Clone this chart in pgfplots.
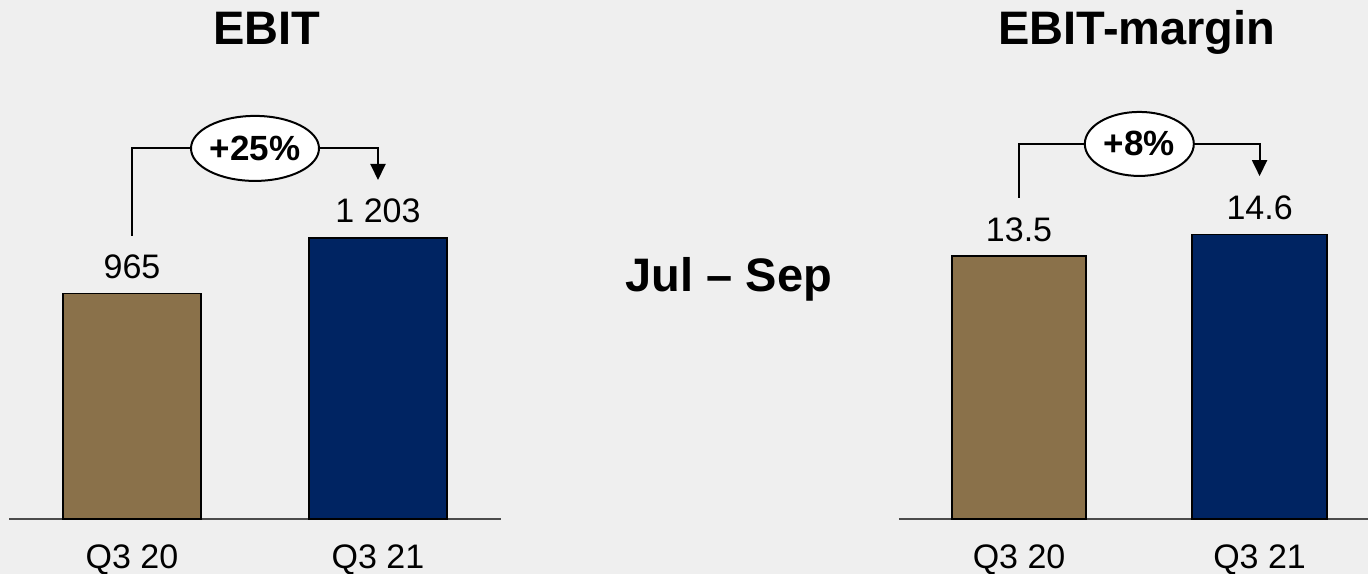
\documentclass[border=0pt]{standalone}
\usepackage{pgfplots}
\pgfplotsset{compat=1.18}
\usetikzlibrary{arrows.meta,shapes.geometric}
\usepackage{fontspec}
\setmainfont{Liberation Sans}
\definecolor{bg}{HTML}{EFEFEF}
\definecolor{barbrown}{HTML}{8A714A}
\definecolor{barnavy}{HTML}{002462}
\begin{document}
\begin{tikzpicture}
\fill[bg] (0,0) rectangle (684bp,287bp);
\useasboundingbox (0,0) rectangle (684bp,287bp);
\pgfplotsset{
  common/.style={
    anchor=south west, scale only axis, height=234bp,
    ymin=0,
    axis x line=bottom, axis y line=none,
    axis line style={-, draw=black!70, line width=0.9bp},
    xtick={0,1}, xticklabels={Q3 20,Q3 21}, major tick length=0pt,
    xticklabel style={anchor=base, yshift=-24.5bp, font=\fontsize{17bp}{20bp}\selectfont},
    clip=false, ybar,
    every node near coord/.append style={inner sep=0pt, yshift=6.8bp, text=black, font=\fontsize{17bp}{20bp}\selectfont},
  },
  barst/.style={fill=#1, draw=black, line width=0.9bp, bar shift=0pt, nodes near coords, point meta=explicit symbolic},
}
\begin{axis}[common, at={(4.5bp,27.35bp)}, width=246bp, xmin=-0.5, xmax=1.5, ymax=2000, bar width=69bp]
\addplot[barst=barbrown] coordinates {(0,965) [965]};
\addplot[barst=barnavy] coordinates {(1,1203) [1~203]};
\draw[line width=1bp, -{Triangle[length=8bp,width=7.5bp]}] (axis cs:0,1212) |- (axis cs:1,1585) -- (axis cs:1,1450);
\node[ellipse, draw=black, fill=white, line width=1bp, minimum width=64bp, minimum height=32.5bp, inner sep=0pt, font=\fontsize{17.5bp}{20bp}\selectfont\bfseries] at (axis cs:0.5,1585) {+25\%};
\end{axis}
\begin{axis}[common, at={(449.4bp,27.35bp)}, width=234.5bp, xmin=-0.5, xmax=1.45, ymax=24, bar width=67.25bp]
\addplot[barst=barbrown] coordinates {(0,13.5) [13.5]};
\addplot[barst=barnavy] coordinates {(1,14.6) [14.6]};
\draw[line width=1bp, -{Triangle[length=8bp,width=7.5bp]}] (axis cs:0,16.48) |- (axis cs:1,19.25) -- (axis cs:1,17.6);
\node[ellipse, draw=black, fill=white, line width=1bp, minimum width=54.5bp, minimum height=32bp, inner sep=0pt, font=\fontsize{17.5bp}{20bp}\selectfont\bfseries] at (axis cs:0.5,19.25) {+8\%};
\end{axis}
\node[anchor=base, inner sep=0pt, font=\fontsize{23.5bp}{28bp}\selectfont\bfseries] at (133.5bp,264.5bp) {EBIT};
\node[anchor=base, inner sep=0pt, font=\fontsize{23.5bp}{28bp}\selectfont\bfseries] at (568.5bp,264.5bp) {EBIT-margin};
\node[anchor=base, inner sep=0pt, font=\fontsize{23.5bp}{28bp}\selectfont\bfseries] at (364.5bp,141.15bp) {Jul – Sep};
\end{tikzpicture}
\end{document}
